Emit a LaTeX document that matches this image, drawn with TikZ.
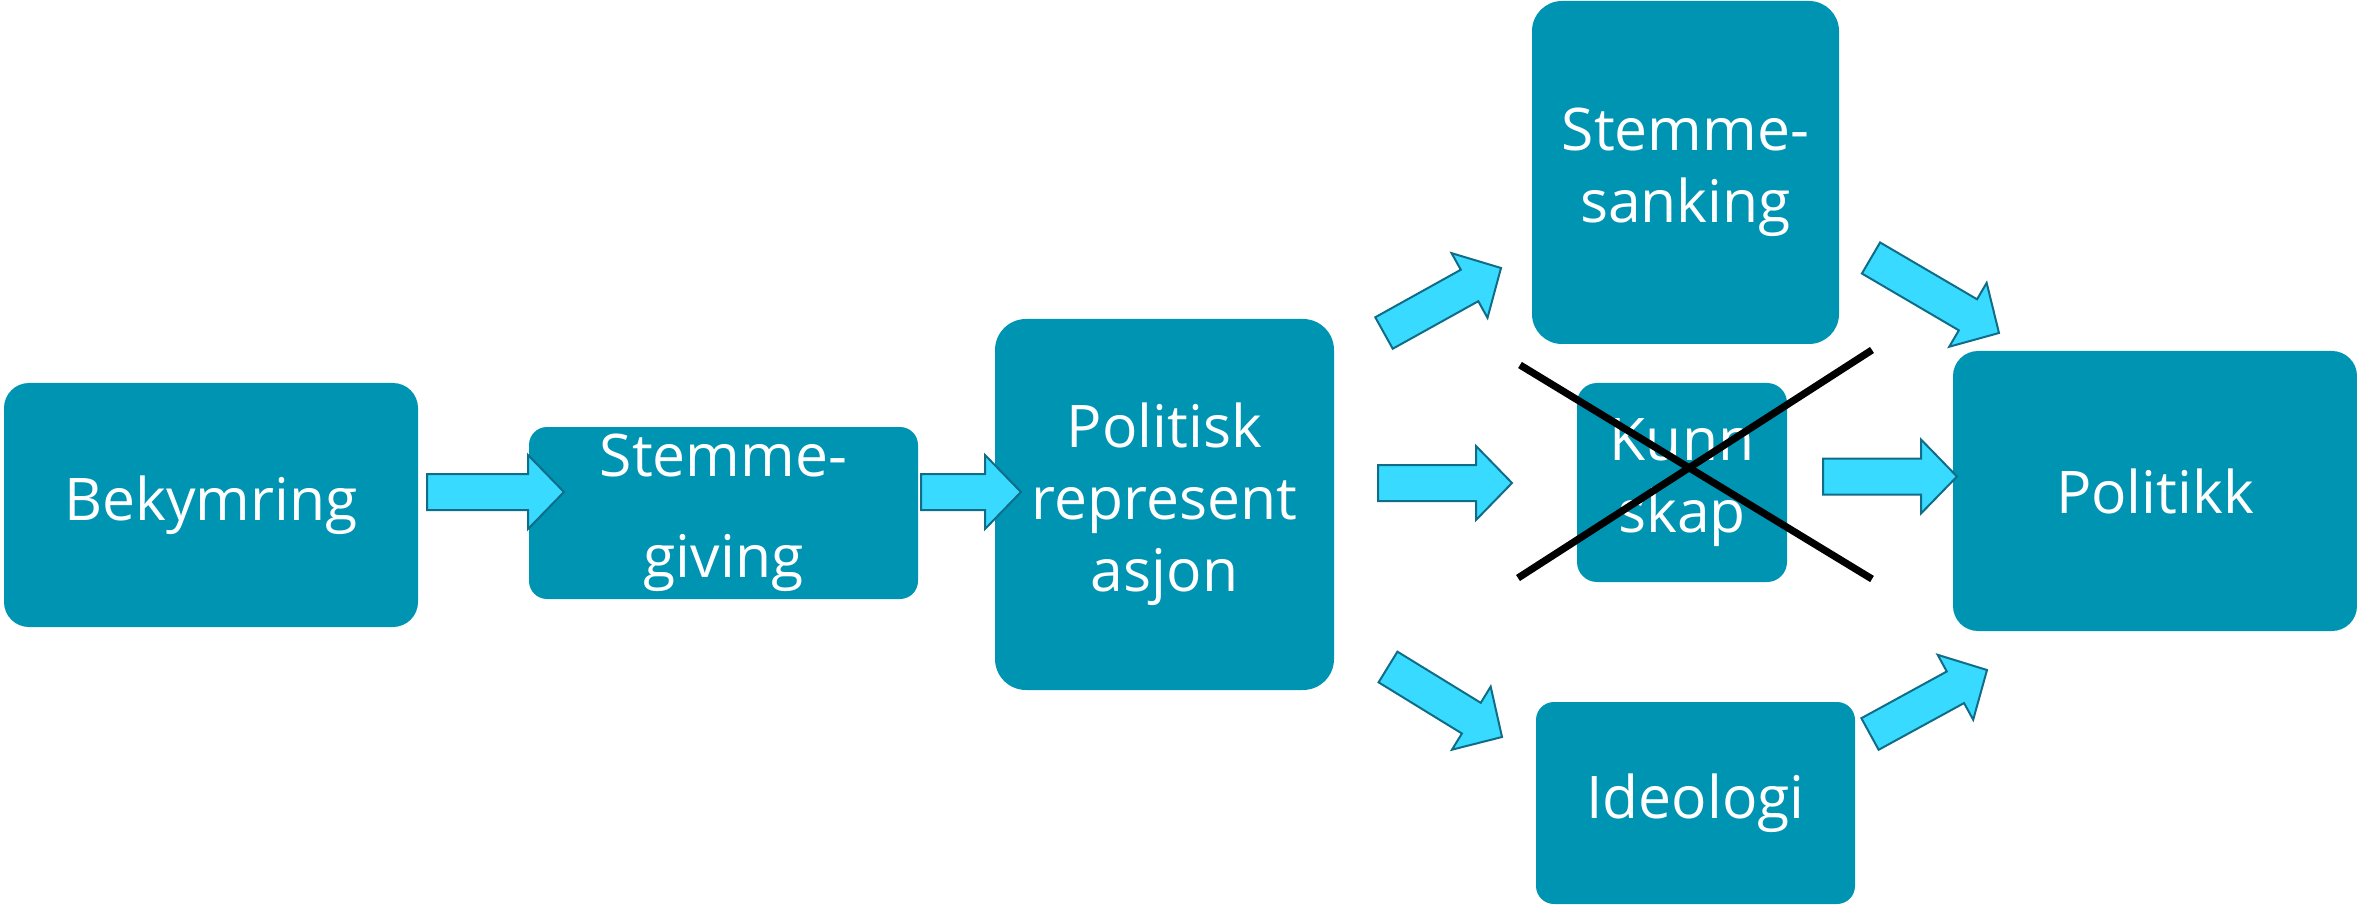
\documentclass[tikz,border=0pt]{standalone}
\usepackage{fontspec}
\setmainfont{Open Sans}
\usepackage{tikz}
\usetikzlibrary{calc}

\definecolor{boksblaa}{RGB}{0,148,179}
\definecolor{pilfyll}{RGB}{56,219,255}
\definecolor{pilkant}{RGB}{16,108,135}

% blokkpil fra #1 (hale) til #2 (spiss)
\newcommand{\blokkpil}[2]{%
  \coordinate (hb) at ($(#2)!18pt!(#1)$);
  \draw [pil] ($(#1)!9pt!90:(#2)$) -- ($(hb)!9pt!90:(#2)$) -- ($(hb)!18.5pt!90:(#2)$) -- (#2)
    -- ($(hb)!18.5pt!-90:(#2)$) -- ($(hb)!9pt!-90:(#2)$) -- ($(#1)!9pt!-90:(#2)$) -- cycle;
}

\begin{document}
\begin{tikzpicture}[line join=miter,x=0.5pt,y=-0.5pt,
    boks/.style={fill=boksblaa,text=white,align=center,inner sep=0pt,font=\fontsize{29.4}{36}\selectfont},
    pil/.style={fill=pilfyll,draw=pilkant,line width=1pt},
    kryss/.style={draw=black,line width=3.6pt}]
        \useasboundingbox (0,0) rectangle (2357,909);
        \node [boks,minimum width=207pt,minimum height=122pt,rounded corners=12.5pt] (bekym) at (211,505) {Bekymring};
        \node [boks,minimum width=194.5pt,minimum height=86pt,rounded corners=9pt,font=\fontsize{29.4}{50.5}\selectfont] (giving) at (723.5,513) {Stemme-\\giving};
        \node [boks,minimum width=169.5pt,minimum height=185.5pt,rounded corners=15.5pt] (polrep) at (1164.5,504.5) {Politisk\\represent\\asjon};
        \node [boks,minimum width=153.5pt,minimum height=171.5pt,rounded corners=15pt] (sanking) at (1685.5,172.5) {Stemme-\\sanking};
        \node [boks,minimum width=105pt,minimum height=99.5pt,rounded corners=10pt] (kunnskap) at (1682,482.5) {Kunn\\skap};
        \node [boks,minimum width=159.5pt,minimum height=101pt,rounded corners=9pt] (ideologi) at (1695.5,803) {Ideologi};
        \node [boks,minimum width=202pt,minimum height=140pt,rounded corners=12.5pt] (politikk) at (2155,491) {Politikk};
        % pilene
        \coordinate (p1a) at (427,492);   \coordinate (p1b) at (564,492);
        \coordinate (p2a) at (921,492);   \coordinate (p2b) at (1021,492);
        \coordinate (p3a) at (1378,483);  \coordinate (p3b) at (1512,483);
        \coordinate (p4a) at (1823,476.5);  \coordinate (p4b) at (1957,476.5);
        \coordinate (p5a) at (1384,333);  \coordinate (p5b) at (1501,268);
        \coordinate (p6a) at (1388,667);  \coordinate (p6b) at (1502,737);
        \coordinate (p7a) at (1871,258);  \coordinate (p7b) at (1999,333);
        \coordinate (p8a) at (1870,734);  \coordinate (p8b) at (1987,670);
        \blokkpil{p1a}{p1b}
        \blokkpil{p2a}{p2b}
        \blokkpil{p3a}{p3b}
        \blokkpil{p4a}{p4b}
        \blokkpil{p5a}{p5b}
        \blokkpil{p6a}{p6b}
        \blokkpil{p7a}{p7b}
        \blokkpil{p8a}{p8b}
        % krysset over kunnskap
        \coordinate (k1a) at (1520,365);  \coordinate (k1b) at (1872,579);
        \coordinate (k2a) at (1518,578);  \coordinate (k2b) at (1872,350);
        \draw [kryss] (k1a) -- (k1b);
        \draw [kryss] (k2a) -- (k2b);
    \end{tikzpicture}
\end{document}
